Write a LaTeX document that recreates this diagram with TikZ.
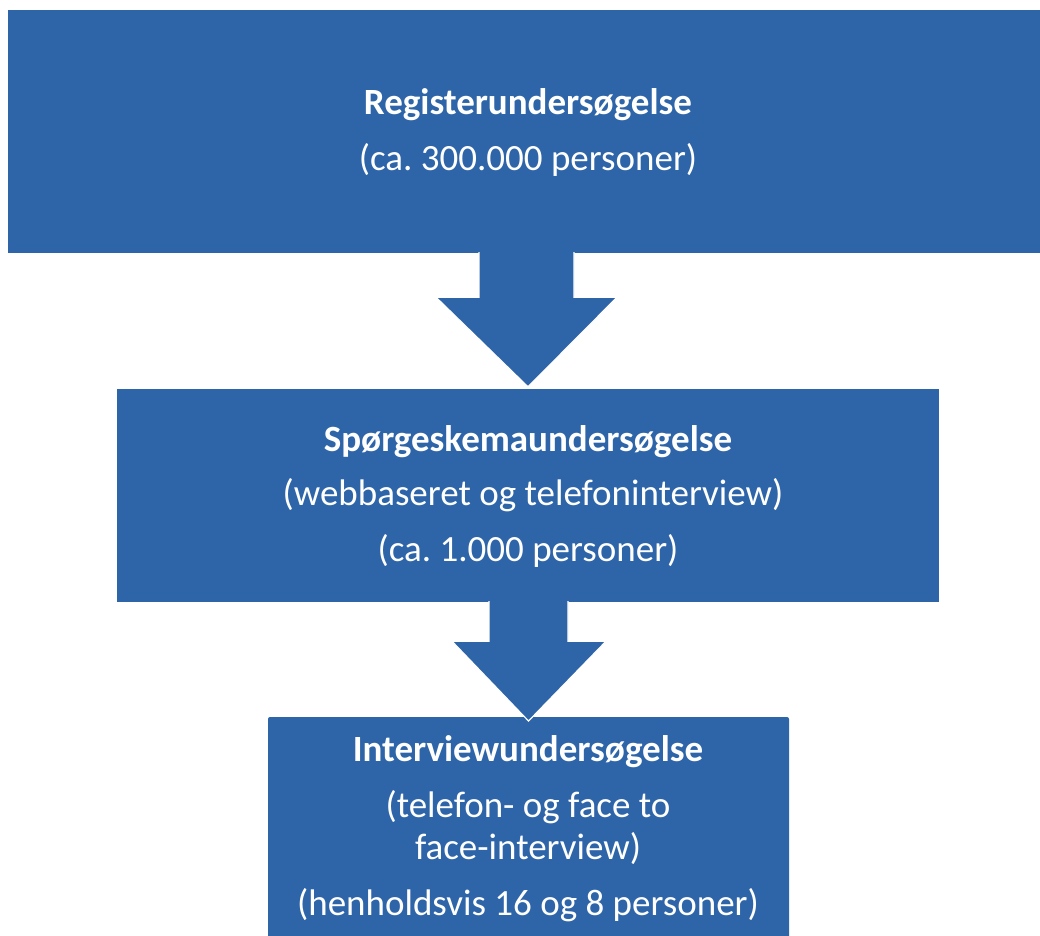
\documentclass[tikz,border=0pt]{standalone}
\usepackage{fontspec}
\setmainfont{Carlito}
\frenchspacing
\usetikzlibrary{calc}
\definecolor{boxblue}{RGB}{46,101,168}
\tikzset{
  blockbox/.style={fill=boxblue, draw=none, inner sep=0pt},
  title/.style={text=white, anchor=base, font=\fontsize{37}{44}\selectfont\bfseries},
  sub/.style={text=white, anchor=base, font=\fontsize{37}{44}\selectfont},
  blockarrow/.style={fill=boxblue, draw=white, line width=1.2pt, line join=miter, rounded corners=0pt}
}
\begin{document}
\begin{tikzpicture}[x=1pt,y=-1pt]
\useasboundingbox (0,0) rectangle (1040,935);
\fill[white] (0,0) rectangle (1040,935);
% boxes
\node[blockbox, minimum width=1032pt, minimum height=243pt] (reg) at (524,131.5) {};
\node[blockbox, minimum width=822pt, minimum height=213pt] (sp) at (528,495.5) {};
\fill[boxblue, rounded corners=2pt] (268,717) rectangle (789,945);
\coordinate (iv) at (528.5,717);
% arrows
\draw[blockarrow] ($(reg.south)+(-45,-1)$) -- ($(reg.south)+(-45,44)$) -- ($(reg.south)+(-88,44)$)
  -- ($(sp.north)+(0,-2)$) -- ($(reg.south)+(93,44)$) -- ($(reg.south)+(50,44)$) -- ($(reg.south)+(50,-1)$);
\fill[boxblue] ($(reg.south)+(-44,-3)$) rectangle ($(reg.south)+(49,1)$);
\draw[blockarrow] ($(sp.south)+(-39,-1)$) -- ($(sp.south)+(-39,39)$) -- ($(sp.south)+(-76,39)$)
  -- ($(iv)+(0,4)$) -- ($(sp.south)+(78,39)$) -- ($(sp.south)+(40,39)$) -- ($(sp.south)+(40,-1)$);
\fill[boxblue] ($(sp.south)+(-38,-3)$) rectangle ($(sp.south)+(39,1)$);
% texts
\node[title] (t1) at (528,114) {Registerundersøgelse};
\node[sub] (t2) at (528,170) {(ca. 300.000 personer)};
\node[title] (t3) at (528,451) {Spørgeskemaundersøgelse};
\node[sub] (t4) at (533,505) {(webbaseret og telefoninterview)};
\node[sub] (t5) at (528,561) {(ca. 1.000 personer)};
\node[title] (t6) at (528,761) {Interviewundersøgelse};
\node[sub] (t7) at (528,817) {(telefon- og face to};
\node[sub] (t8) at (528,859) {face-interview)};
\node[sub] (t9) at (528,915) {(henholdsvis 16 og 8 personer)};
\end{tikzpicture}
\end{document}
